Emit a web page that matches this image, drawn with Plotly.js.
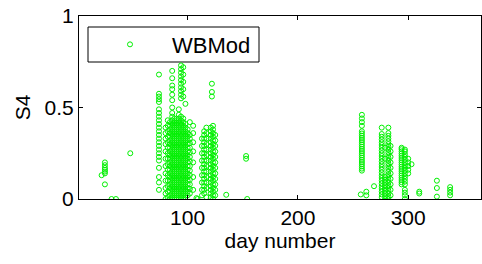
<!DOCTYPE html>
<html><head><meta charset="utf-8">
<script src="https://cdn.plot.ly/plotly-3.0.1.min.js"></script>
<style>html,body{margin:0;padding:0;background:#fff;}#chart{width:482px;height:264px;}</style>
</head><body><div id="chart"></div>
<script>
// S4 values per day-number column
const d22 = [0.13];
const d25 = [0.20, 0.185, 0.17, 0.16, 0.15, 0.14, 0.08];
const d31 = [0.0];
const d35 = [0.0];
const d48 = [0.25];
const d74 = [0.68, 0.575, 0.56, 0.545, 0.53, 0.49, 0.47, 0.45, 0.43, 0.41, 0.39, 0.37, 0.35, 0.33, 0.31, 0.29, 0.27, 0.25, 0.23, 0.21, 0.17, 0.12, 0.09, 0.05];
const d80 = [0.0, 0.03, 0.06, 0.10, 0.14, 0.18, 0.22, 0.26, 0.30, 0.33, 0.36, 0.39];
const d82 = [0.01, 0.04, 0.07, 0.10, 0.13, 0.16, 0.19, 0.22, 0.25, 0.28, 0.31, 0.34, 0.37, 0.40, 0.43];
const d84 = [0.0, 0.02, 0.04, 0.06, 0.08, 0.10, 0.12, 0.14, 0.16, 0.18, 0.20, 0.22, 0.24, 0.26, 0.28, 0.30, 0.32, 0.34, 0.36, 0.38, 0.40, 0.42];
const d86 = [0.01, 0.03, 0.05, 0.07, 0.09, 0.11, 0.13, 0.15, 0.17, 0.19, 0.21, 0.23, 0.25, 0.27, 0.29, 0.31, 0.33, 0.35, 0.37, 0.39, 0.41, 0.43, 0.45, 0.47, 0.50, 0.54, 0.57, 0.60, 0.62, 0.66, 0.70];
const d88 = [0.0, 0.02, 0.04, 0.06, 0.08, 0.10, 0.12, 0.14, 0.16, 0.18, 0.20, 0.22, 0.24, 0.26, 0.28, 0.30, 0.32, 0.34, 0.36, 0.38, 0.40, 0.42, 0.44];
const d90 = [0.01, 0.03, 0.05, 0.07, 0.09, 0.11, 0.13, 0.15, 0.17, 0.19, 0.21, 0.23, 0.25, 0.27, 0.29, 0.31, 0.33, 0.35, 0.37, 0.39, 0.41, 0.43];
const d92 = [0.0, 0.02, 0.04, 0.06, 0.08, 0.10, 0.12, 0.14, 0.16, 0.18, 0.20, 0.22, 0.24, 0.26, 0.28, 0.30, 0.32, 0.34, 0.36, 0.38, 0.40, 0.42, 0.44, 0.46, 0.49];
const d94 = [0.01, 0.03, 0.05, 0.07, 0.09, 0.11, 0.13, 0.15, 0.17, 0.19, 0.21, 0.23, 0.25, 0.27, 0.29, 0.31, 0.33, 0.35, 0.37, 0.39, 0.41, 0.43, 0.45, 0.55, 0.57, 0.59, 0.61, 0.63, 0.65, 0.67, 0.69, 0.71, 0.73];
const d96 = [0.0, 0.02, 0.04, 0.06, 0.08, 0.10, 0.12, 0.14, 0.16, 0.18, 0.20, 0.22, 0.24, 0.26, 0.28, 0.30, 0.32, 0.34, 0.36, 0.38, 0.40, 0.42, 0.44, 0.56, 0.60, 0.64, 0.68, 0.72];
const d98 = [0.01, 0.03, 0.05, 0.07, 0.09, 0.11, 0.13, 0.15, 0.17, 0.19, 0.21, 0.23, 0.25, 0.27, 0.29, 0.31, 0.33, 0.35, 0.37, 0.39, 0.41, 0.52];
const d100 = [0.02, 0.04, 0.06, 0.08, 0.10, 0.12, 0.14, 0.16, 0.18, 0.20, 0.22, 0.24, 0.26, 0.28, 0.30, 0.32, 0.34, 0.36, 0.38];
const d102 = [0.03, 0.055, 0.08, 0.105, 0.13, 0.155, 0.18, 0.205, 0.23, 0.255, 0.28, 0.305, 0.33, 0.35, 0.42];
const d105 = [0.05, 0.12, 0.20, 0.26, 0.31, 0.36, 0.40];
const d108 = [0.005];
const d109 = [0.0];
const d113 = [0.02, 0.05, 0.09, 0.13, 0.17, 0.21, 0.25, 0.29, 0.33];
const d115 = [0.03, 0.05, 0.07, 0.09, 0.11, 0.13, 0.15, 0.17, 0.19, 0.21, 0.23, 0.25, 0.27, 0.29, 0.31, 0.33, 0.35, 0.37];
const d117 = [0.01, 0.06, 0.09, 0.12, 0.15, 0.18, 0.21, 0.24, 0.27, 0.30, 0.33, 0.36, 0.39];
const d121 = [0.01, 0.03, 0.05, 0.07, 0.09, 0.11, 0.13, 0.15, 0.17, 0.19, 0.21, 0.23, 0.25, 0.27, 0.29, 0.31, 0.33, 0.35, 0.37, 0.39];
const d122 = [0.56, 0.585, 0.63];
const d123 = [0.0, 0.02, 0.04, 0.06, 0.08, 0.10, 0.12, 0.14, 0.16, 0.18, 0.20, 0.22, 0.24, 0.26, 0.28, 0.30, 0.32, 0.34, 0.36, 0.38, 0.40];
const d125 = [0.02, 0.05, 0.08, 0.11, 0.14, 0.17, 0.20, 0.23, 0.26, 0.29, 0.32, 0.35];
const d135 = [0.023];
const d153 = [0.22, 0.235];
const d154 = [0.0];
const d257 = [0.025];
const d258 = [0.46, 0.44, 0.42, 0.40, 0.37, 0.358, 0.346, 0.334, 0.322, 0.31, 0.298, 0.286, 0.274, 0.262, 0.25, 0.238, 0.226, 0.214, 0.202, 0.19, 0.178, 0.166, 0.155];
const d262 = [0.02, 0.04];
const d269 = [0.07];
const d276 = [0.01, 0.025, 0.04, 0.055, 0.07, 0.085, 0.10, 0.115, 0.13, 0.145, 0.16, 0.175, 0.19, 0.205, 0.22, 0.235, 0.25, 0.265, 0.28, 0.295, 0.31, 0.325, 0.34, 0.355, 0.39];
const d279 = [0.0, 0.015, 0.03, 0.045, 0.06, 0.075, 0.09, 0.105, 0.12, 0.22, 0.28];
const d282 = [0.0, 0.015, 0.03, 0.045, 0.06, 0.075, 0.09, 0.105, 0.12, 0.135, 0.15, 0.165, 0.18, 0.195, 0.21, 0.225, 0.24, 0.255, 0.27, 0.285, 0.30, 0.315, 0.33, 0.345, 0.36, 0.39];
const d284 = [0.02, 0.05, 0.08, 0.11, 0.14, 0.17, 0.20, 0.23, 0.26, 0.29];
const d294 = [0.08, 0.092, 0.104, 0.116, 0.128, 0.14, 0.152, 0.164, 0.176, 0.188, 0.20, 0.212, 0.224, 0.236, 0.248, 0.26, 0.272, 0.28];
const d297 = [0.0, 0.02, 0.035, 0.05, 0.08, 0.095, 0.11, 0.125, 0.14, 0.155, 0.17, 0.185, 0.20, 0.215, 0.23, 0.245, 0.26, 0.27];
const d300 = [0.14, 0.16, 0.18, 0.20, 0.22];
const d303 = [0.19];
const d310 = [0.03, 0.04];
const d326 = [0.10, 0.06, 0.013];
const d338 = [0.065, 0.05, 0.035, 0.02];

const columns = [
  [22, d22], [25, d25], [31, d31], [35, d35], [48, d48], [74, d74],
  [80, d80], [82, d82], [84, d84], [86, d86], [88, d88], [90, d90], [92, d92],
  [94, d94], [96, d96], [98, d98], [100, d100], [102, d102], [105, d105],
  [108, d108], [109, d109], [113, d113], [115, d115], [117, d117], [121, d121],
  [122, d122], [123, d123], [125, d125], [135, d135], [153, d153], [154, d154],
  [257, d257], [258, d258], [262, d262], [269, d269], [276, d276], [279, d279],
  [282, d282], [284, d284], [294, d294], [297, d297], [300, d300], [303, d303],
  [310, d310], [326, d326], [338, d338]
];

const xTicks = [100, 200, 300];
const yTicks = [0, 0.5, 1];
const yTickText = ['0', '0.5', '1'];

const xs = [], ys = [];
columns.forEach(([day, vals]) => vals.forEach(v => { xs.push(day); ys.push(v); }));

const FONT = 'Liberation Sans, Arial, sans-serif';
const GREEN = 'rgb(0,240,0)';

const trace = {
  type: 'scatter', mode: 'markers', name: 'WBMod',
  x: xs, y: ys,
  marker: {symbol: 'circle-open', size: 5, color: GREEN, line: {width: 1, color: GREEN}}
};

const layout = {
  width: 482, height: 264,
  margin: {l: 79, r: 1, t: 16, b: 65, pad: 0},
  paper_bgcolor: '#fff', plot_bgcolor: '#fff',
  font: {family: FONT, size: 21, color: '#000'},
  showlegend: true,
  legend: {
    x: 0.0224, y: 0.844, xanchor: 'left', yanchor: 'middle',
    bgcolor: 'rgba(0,0,0,0)', borderwidth: 0, itemwidth: 74,
    font: {family: FONT, size: 22, color: '#000'}
  },
  shapes: [{
    type: 'rect', xref: 'paper', yref: 'paper', layer: 'below',
    x0: 9 / 402, x1: 180 / 402, y0: 137 / 183, y1: 172 / 183,
    line: {color: '#000', width: 1}, fillcolor: '#fff'
  }],
  xaxis: {
    range: [1.5, 366], tickvals: xTicks, ticktext: xTicks.map(String),
    ticks: 'inside', ticklen: 4, tickcolor: '#000',
    showline: true, linecolor: '#000', linewidth: 1, mirror: 'ticks',
    showgrid: false, zeroline: false,
    tickfont: {family: FONT, size: 21, color: '#000'},
    title: {text: 'day number', font: {family: FONT, size: 21, color: '#000'}, standoff: 4}
  },
  yaxis: {
    range: [0, 1], tickvals: yTicks, ticktext: yTickText,
    ticks: 'inside', ticklen: 4, tickcolor: '#000',
    showline: true, linecolor: '#000', linewidth: 1, mirror: 'ticks',
    showgrid: false, zeroline: false,
    tickfont: {family: FONT, size: 21, color: '#000'},
    title: {text: 'S4', font: {family: FONT, size: 21, color: '#000'}, standoff: 8}
  }
};

Plotly.newPlot('chart', [trace], layout, {displayModeBar: false, staticPlot: true});
</script>
</body></html>
